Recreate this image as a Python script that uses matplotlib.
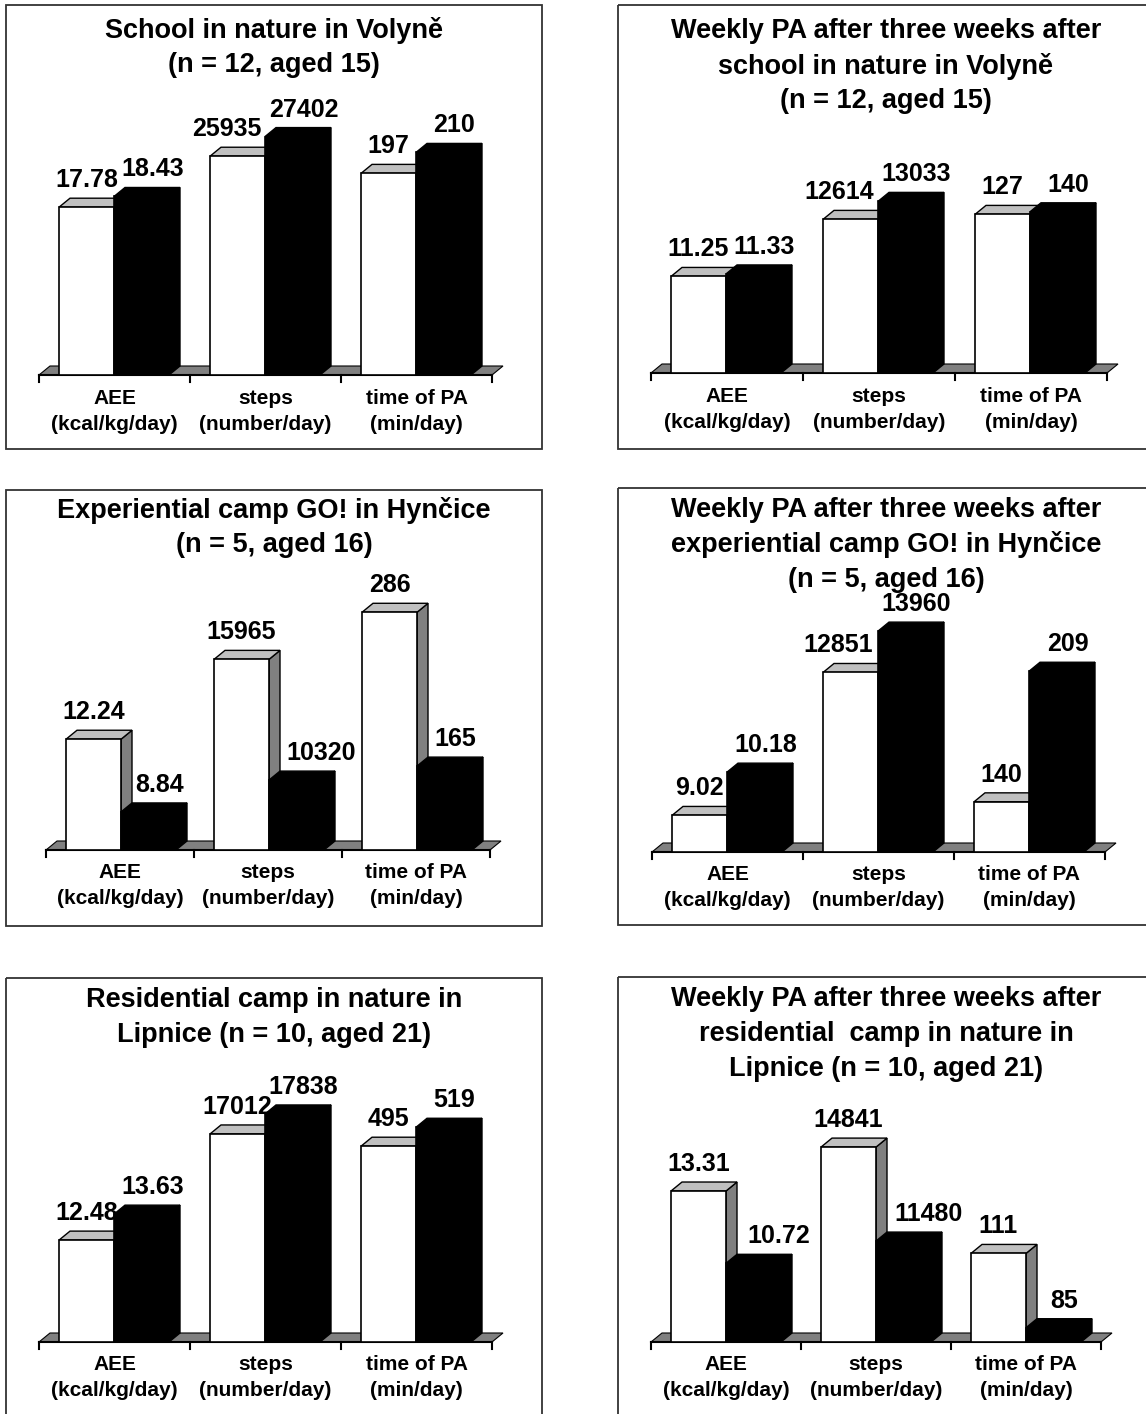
import matplotlib
matplotlib.use('Agg')
import matplotlib.pyplot as plt
from matplotlib.patches import Polygon, Rectangle

plt.rcParams['font.family'] = ['Liberation Sans', 'DejaVu Sans']

# Datos
categorias = ['AEE', 'steps', 'time of PA']
unidades = ['(kcal/kg/day)', '(number/day)', '(min/day)']
formatos = ['{:.2f}', '{:.0f}', '{:.0f}']

titulos = [
    ['School in nature in Volyně', '(n = 12, aged 15)'],
    ['Weekly PA after three weeks after', 'school in nature in Volyně', '(n = 12, aged 15)'],
    ['Experiential camp GO! in Hynčice', '(n = 5, aged 16)'],
    ['Weekly PA after three weeks after', 'experiential camp GO! in Hynčice', '(n = 5, aged 16)'],
    ['Residential camp in nature in', 'Lipnice (n = 10, aged 21)'],
    ['Weekly PA after three weeks after', 'residential  camp in nature in', 'Lipnice (n = 10, aged 21)'],
]

barras_blancas = [
    [17.78, 25935, 197],
    [11.25, 12614, 127],
    [12.24, 15965, 286],
    [9.02, 12851, 140],
    [12.48, 17012, 495],
    [13.31, 14841, 111],
]
barras_negras = [
    [18.43, 27402, 210],
    [11.33, 13033, 140],
    [8.84, 10320, 165],
    [10.18, 13960, 209],
    [13.63, 17838, 519],
    [10.72, 11480, 85],
]

# Each category has its own value axis (lower, upper limit)
limites_y = [
    [(7.6, 25.8), (9600, 32000), (72, 258)],
    [(8.16, 17.76), (9040, 16020), (-666, 834)],
    [(7.06, 21.09), (7050, 21080), (99, 335)],
    [(8.04, 16.08), (8040, 16080), (113.5, 272)],
    [(7.97, 21.25), (8420, 20810), (247, 627)],
    [(7.9, 18.65), (7870, 18600), (80, 185)],
]

# Layout in pixels: box (x, y, w, h), baseline offset, left offset, slot width, title offset
W, H = 1146, 1414
cajas = [(6, 5, 536, 444), (618, 5, 536, 444),
         (6, 490, 536, 436), (618, 488, 536, 437),
         (6, 978, 536, 444), (618, 977, 536, 444)]
base_off = [370, 368, 360, 364, 364, 365]
izq_off = [33, 33, 40, 34, 33, 33]
ancho_slot = [151, 152, 148, 151, 151, 150]
titulo_off = [25, 26, 20, 22, 22, 22]
# shift of the white "steps" label (px) where it would touch the black one
corrimiento_pasos = [-11, -11, 0, -12, 0, 0]

ALTO_EJE = 300      # px height of each category axis
BAR_X0 = 20         # px from slot start to white bar
BAR_W = 55
DX, DY = 11, 9      # 3D depth in px

fig = plt.figure(figsize=(W / 100, H / 100), dpi=100)
fondo = fig.add_axes([0, 0, 1, 1])
fondo.set_xlim(0, W)
fondo.set_ylim(H, 0)
fondo.axis('off')

for p in range(6):
    bx, by, bw, bh = cajas[p]
    base = by + base_off[p]
    x_izq = bx + izq_off[p]
    slot = ancho_slot[p]
    x_der = x_izq + 3 * slot

    # Marco del panel
    fondo.add_patch(Rectangle((bx, by), bw, bh, fill=False, edgecolor='#333333', linewidth=1.3))

    # Titulo
    for k, linea in enumerate(titulos[p]):
        fondo.text(bx + bw / 2, by + titulo_off[p] + k * 35, linea, ha='center', va='center',
                   fontsize=19.5, fontweight='bold')

    # Piso gris y eje x
    fondo.add_patch(Polygon([(x_izq, base), (x_der, base), (x_der + DX, base - DY), (x_izq + DX, base - DY)],
                            closed=True, facecolor='#808080', edgecolor='black', linewidth=0.8))
    fondo.plot([x_izq, x_der], [base, base], color='black', linewidth=1.5)
    for i in range(4):
        fondo.plot([x_izq + i * slot] * 2, [base, base + 7], color='black', linewidth=1.5)

    for i in range(3):
        cx = x_izq + i * slot + slot / 2
        fondo.text(cx, base + 23, categorias[i], ha='center', va='center', fontsize=15, fontweight='bold')
        fondo.text(cx, base + 49, unidades[i], ha='center', va='center', fontsize=15, fontweight='bold')

        # Eje propio de la categoria
        ax = fig.add_axes([(x_izq + i * slot) / W, 1 - base / H, slot / W, ALTO_EJE / H])
        lo, hi = limites_y[p][i]
        ax.set_xlim(0, slot)
        ax.set_ylim(lo, hi)
        ax.set_axis_off()
        dyd = DY * (hi - lo) / ALTO_EJE

        vb, vn = barras_blancas[p][i], barras_negras[p][i]
        estilos = [('white', '#c0c0c0', '#808080', 2), ('black', 'black', 'black', 3)]
        for j, v in enumerate([vb, vn]):
            cara, tapa, lado, z = estilos[j]
            x0 = BAR_X0 + j * BAR_W
            x1 = x0 + BAR_W
            ax.bar(x0, v - lo, bottom=lo, width=BAR_W, align='edge', color=cara,
                   edgecolor='black', linewidth=1.2, zorder=z, clip_on=False)
            ax.add_patch(Polygon([(x1, lo), (x1 + DX, lo + dyd), (x1 + DX, v + dyd), (x1, v)],
                                 closed=True, facecolor=lado, edgecolor='black', linewidth=1.0,
                                 zorder=z - 0.5 if j == 0 else z, clip_on=False))
            ax.add_patch(Polygon([(x0, v), (x1, v), (x1 + DX, v + dyd), (x0 + DX, v + dyd)],
                                 closed=True, facecolor=tapa, edgecolor='black', linewidth=1.0,
                                 zorder=z - 0.5 if j == 0 else z, clip_on=False))

            # Etiqueta del valor
            texto = formatos[i].format(v)
            if j == 0:
                xt = (x0 + x1) / 2 + (corrimiento_pasos[p] if i == 1 else 0)
            else:
                xt = (x0 + x1) / 2 + 11 + (14 if vn < vb and len(texto) >= 5 else 0)
            ax.annotate(texto, xy=(xt, v), xytext=(0, DY + 11),
                        textcoords='offset pixels', ha='center', va='baseline',
                        fontsize=18, fontweight='bold', annotation_clip=False, zorder=5)

fig.savefig('out.png', dpi=100)
